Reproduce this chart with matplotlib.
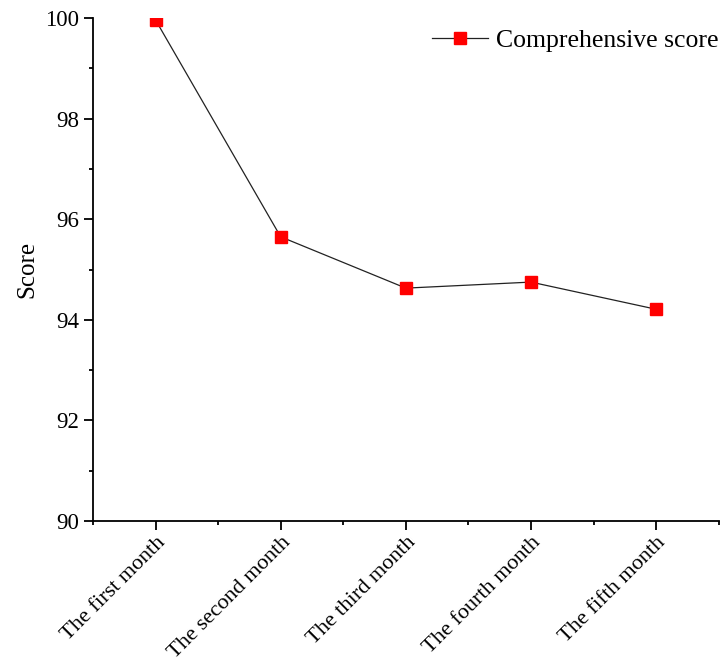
import matplotlib.pyplot as plt
from matplotlib.ticker import MultipleLocator

months = ["The first month", "The second month", "The third month",
          "The fourth month", "The fifth month"]
scores = [99.96, 95.65, 94.63, 94.75, 94.21]

plt.rcParams['font.family'] = ['Liberation Serif', 'DejaVu Serif']

fig = plt.figure(figsize=(7.26, 6.63), dpi=100)
ax = fig.add_axes([0.128, 0.214, 0.862, 0.759])

x = list(range(1, len(months) + 1))
ax.plot(x, scores, color='#222222', lw=0.9, marker='s', ms=8,
        mfc='red', mec='red', label='Comprehensive score')

ax.set_xlim(0.5, 5.5)
ax.set_ylim(90, 100)
ax.set_xticks(x)
ax.set_xticklabels(months, rotation=45, ha='right', rotation_mode='anchor')
ax.xaxis.set_minor_locator(MultipleLocator(0.5))
ax.yaxis.set_major_locator(MultipleLocator(2))
ax.yaxis.set_minor_locator(MultipleLocator(1))

for s in ['top', 'right']:
    ax.spines[s].set_visible(False)
for s in ['left', 'bottom']:
    ax.spines[s].set_linewidth(1.3)

ax.tick_params(which='major', direction='out', length=6.5, width=1.3, labelsize=16.5)
ax.tick_params(axis='x', labelsize=16)
ax.tick_params(which='minor', direction='out', length=3, width=1.3)
ax.tick_params(axis='x', pad=2)

ax.set_ylabel('Score', fontsize=18, labelpad=5)

ax.legend(loc='upper right', frameon=False, fontsize=18.5,
          handlelength=2.2, handletextpad=0.3, borderaxespad=0.0,
          bbox_to_anchor=(1.016, 0.998))

fig.savefig('out.png', dpi=100)
